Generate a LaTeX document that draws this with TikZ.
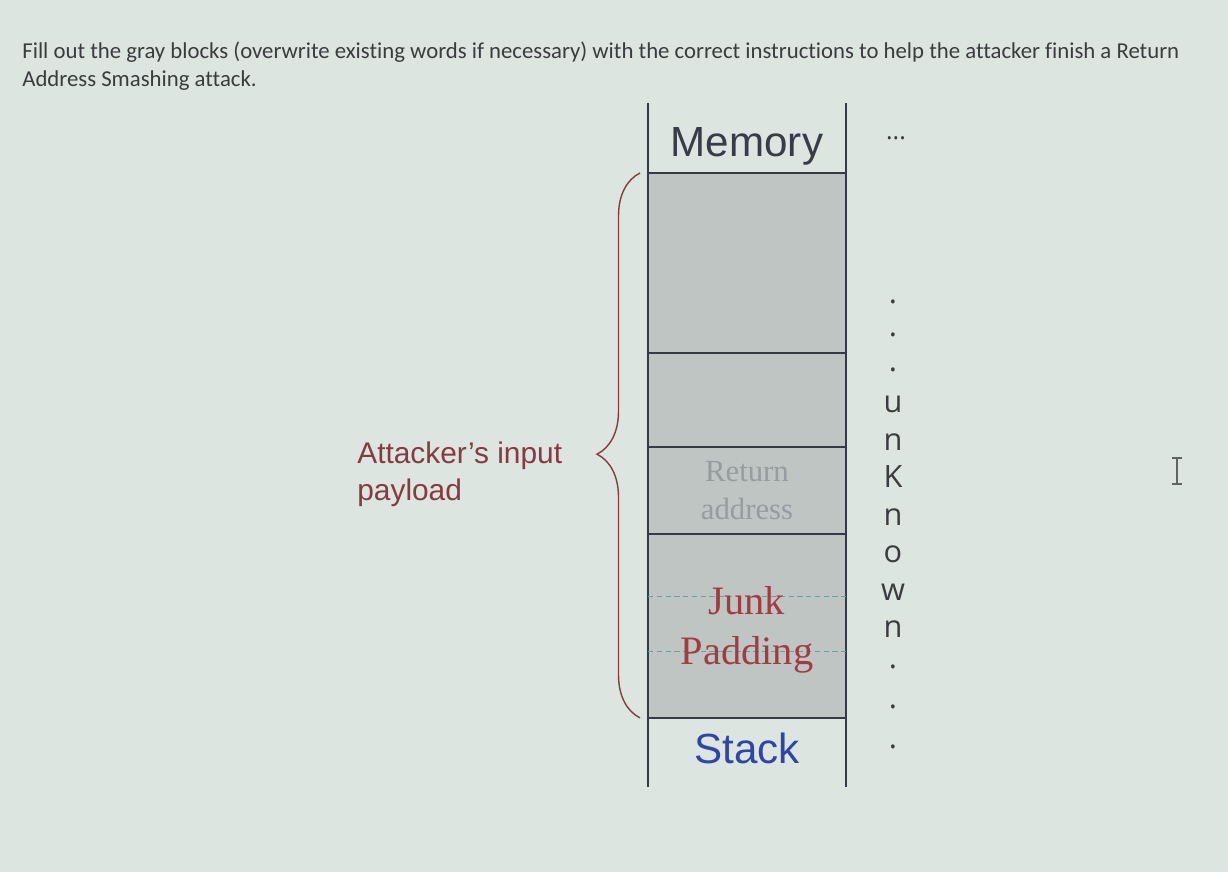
\documentclass[tikz,border=0pt]{standalone}
\usepackage{fontspec}
\setmainfont{Liberation Serif}
\setsansfont{Liberation Sans}
\newfontfamily\promptfont[Ligatures=NoCommon]{Carlito}
\newfontfamily\seqfont{Open Sans}
\usetikzlibrary{positioning,decorations.pathreplacing}
\definecolor{screen}{RGB}{221,229,224}
\definecolor{cellgray}{RGB}{190,197,195}
\definecolor{cellline}{RGB}{52,58,70}
\definecolor{inkgray}{RGB}{58,60,64}
\definecolor{memink}{RGB}{55,60,72}
\definecolor{fadegray}{RGB}{150,156,160}
\definecolor{junkred}{RGB}{162,60,66}
\definecolor{stackblue}{RGB}{46,70,165}
\definecolor{payred}{RGB}{134,58,66}
\definecolor{guideteal}{RGB}{105,160,160}

\begin{document}
\begin{tikzpicture}[x=0.02cm, y=-0.02cm,
  cell/.style={draw=cellline, line width=1.1pt, fill=cellgray, minimum width=3.96cm, inner sep=0pt, outer sep=0pt},
  side/.style={draw=cellline, line width=1.4pt},
  prompt/.style={anchor=north west, inner sep=0pt, align=left, text=inkgray, font=\promptfont\fontsize{12.95}{15.4}\selectfont},
  head/.style={inner sep=0pt, font=\sffamily\fontsize{24}{24}\selectfont},
  retword/.style={inner sep=0pt, align=center, text=fadegray, font=\rmfamily\fontsize{17.5}{21.5}\selectfont},
  junkword/.style={inner sep=0pt, align=center, text=junkred, font=\rmfamily\fontsize{23}{28.5}\selectfont},
  payload/.style={anchor=west, inner sep=0pt, align=left, text=payred, font=\sffamily\fontsize{17}{21}\selectfont},
  brc/.style={draw=payred, line width=0.8pt, decorate, decoration={brace, amplitude=0.86cm, aspect=0.484}},
  seq/.style={anchor=base, inner sep=0pt, text=inkgray, font=\seqfont\fontsize{17.5}{17.5}\selectfont},
  guide/.style={draw=guideteal, densely dashed, line width=0.4pt},
  cursor/.style={draw=inkgray!80, line width=0.6pt}]
\fill[screen] (0,0) rectangle (1228,872);
\node[prompt] (prompt) at (22,42) {Fill out the gray blocks (overwrite existing words if necessary) with the correct instructions to help the attacker finish a Return\\Address Smashing attack.};

\node[cell, minimum height=3.6cm, anchor=north west] (b1) at (648,173) {};
\node[cell, minimum height=1.88cm, below=0pt of b1] (b2) {};
\node[cell, minimum height=1.74cm, below=0pt of b2] (ret) {};
\node[cell, minimum height=3.68cm, below=0pt of ret] (junk) {};
\draw[side] ([yshift=1.4cm]b1.north west) -- ([yshift=-1.38cm]junk.south west);
\draw[side] ([yshift=1.4cm]b1.north east) -- ([yshift=-1.38cm]junk.south east);

\node[head, text=memink, above=0.14cm of b1] (mem) {Memory};
\node[head, text=stackblue, below=0.3cm of junk] (stk) {Stack};
\node[retword] (rt) at (ret.center) {Return\\address};
\coordinate (g1) at (0,596);
\coordinate (g2) at (0,651);
\draw[guide] (junk.west |- g1) -- (junk.east |- g1);
\draw[guide] (junk.west |- g2) -- (junk.east |- g2);
\node[junkword] (jt) at ([yshift=-0.08cm]junk.center) {Junk\\Padding};

\draw[brc] ([xshift=-0.16cm]junk.south west) -- ([xshift=-0.16cm]b1.north west);
\node[payload] (pay) at (357,474) {Attacker’s input\\payload};

\node[seq, font=\seqfont\fontsize{14}{14}\selectfont] (more) at (896,139) {...};
\foreach \ch/\yy in {./303,./336,./371,u/412,n/450,K/487,n/525,o/562,w/600,n/637,./668,./708,./748}
  \node[seq] (s\yy) at (893,\yy) {\ch};

\draw[cursor] (1172,458) -- (1182,458) (1177,458) -- (1177,484) (1172,484) -- (1182,484);
\end{tikzpicture}
\end{document}
